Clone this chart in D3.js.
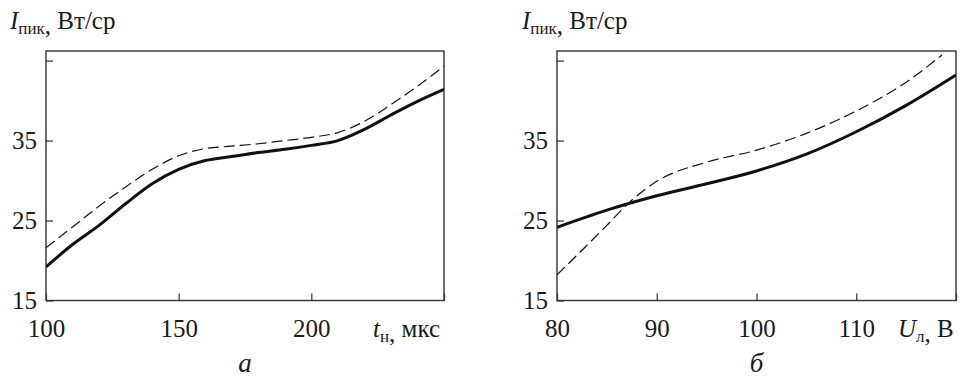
<!DOCTYPE html>
<html>
<head>
<meta charset="utf-8">
<script src="https://cdn.jsdelivr.net/npm/d3@7"></script>
<style>
  body { margin: 0; background: #fff; }
</style>
</head>
<body>
<div id="chartArea"></div>
<script>
// panel a: I_пик vs t_н
var tA = [100, 110, 120, 130, 140, 150, 160, 170, 180, 190, 200, 210, 220, 230, 240, 250];
var solidA = [19.2, 22.0, 24.4, 27.1, 29.6, 31.4, 32.5, 33.0, 33.5, 33.9, 34.4, 35.0, 36.4, 38.2, 39.9, 41.4];
var dashA = [21.6, 24.2, 26.8, 29.2, 31.4, 33.1, 34.0, 34.3, 34.6, 35.0, 35.4, 36.0, 37.4, 39.5, 41.8, 44.3];
var xTicksA = [100, 150, 200, 250];

// panel б: I_пик vs U_л
var uSolidB = [80, 85, 90, 95, 100, 105, 110, 115, 120];
var solidB = [24.15, 26.3, 28.1, 29.6, 31.2, 33.3, 36.1, 39.4, 43.2];
var uDashB = [80, 85, 87.2, 90, 95, 100, 105, 110, 115, 118.6];
var dashB = [18.2, 24.4, 27.2, 29.9, 32.3, 33.8, 35.9, 38.7, 42.3, 45.7];
var xTicksB = [80, 90, 100, 110, 120];

var yTicks = [15, 25, 35, 45];
var yLabeled = [15, 25, 35];

var width = 963, height = 378;
var plotTop = 51, plotBottom = 300.5;
var serif = '"Liberation Serif"';

var svg = d3.select('#chartArea').append('svg')
    .attr('width', width)
    .attr('height', height);

function panel(o) {
    var x = d3.scaleLinear().domain(o.xDomain).range([o.left, o.right]);
    var y = d3.scaleLinear().domain([15, 46.2]).range([plotBottom, plotTop]);
    var g = svg.append('g');

    g.append('clipPath').attr('id', o.id + 'clip')
        .append('rect')
        .attr('x', o.left).attr('y', plotTop)
        .attr('width', o.right - o.left).attr('height', plotBottom - plotTop);

    var yAxis = g.append('g')
        .attr('transform', 'translate(' + o.left + ',0)')
        .call(d3.axisLeft(y).tickValues(yTicks).tickSize(-7).tickPadding(9)
            .tickFormat(function(d) { return yLabeled.indexOf(d) >= 0 ? d : ''; }));
    var xAxis = g.append('g')
        .attr('transform', 'translate(0,' + plotBottom + ')')
        .call(d3.axisBottom(x).tickValues(o.xTicks).tickSize(-7).tickPadding(19)
            .tickFormat(function(d) { return d === o.xDomain[1] ? '' : d; }));
    [yAxis, xAxis].forEach(function(a) {
        a.attr('font-family', null).attr('font-size', null);
        a.select('.domain').remove();
        a.selectAll('line').attr('stroke', '#333').attr('stroke-width', 1.2);
        a.selectAll('text').style('font-family', serif)
            .attr('font-size', 25).attr('fill', '#1a1a1a');
    });

    g.append('rect')
        .attr('x', o.left).attr('y', plotTop)
        .attr('width', o.right - o.left).attr('height', plotBottom - plotTop)
        .attr('fill', 'none').attr('stroke', '#333').attr('stroke-width', 1.4);

    var line = d3.line()
        .x(function(d) { return x(d[0]); })
        .y(function(d) { return y(d[1]); })
        .curve(d3.curveMonotoneX);

    g.append('path')
        .datum(d3.zip(o.dashX, o.dash))
        .attr('clip-path', 'url(#' + o.id + 'clip)')
        .attr('d', line)
        .attr('fill', 'none').attr('stroke', '#111')
        .attr('stroke-width', 1.2).attr('stroke-dasharray', '11,5');
    g.append('path')
        .datum(d3.zip(o.solidX, o.solid))
        .attr('clip-path', 'url(#' + o.id + 'clip)')
        .attr('d', line)
        .attr('fill', 'none').attr('stroke', '#111')
        .attr('stroke-width', 3);

    // y title
    var yt = g.append('text').attr('x', o.yTitleX).attr('y', 29)
        .style('font-family', serif).attr('font-size', 25).attr('fill', '#1a1a1a');
    yt.append('tspan').attr('font-style', 'italic').text('I');
    yt.append('tspan').attr('font-size', 17).attr('dy', 5).text('пик');
    yt.append('tspan').text(',');
    yt.append('tspan').attr('dy', -5).text(' Вт/ср');

    // x title
    var xt = g.append('text').attr('x', o.xTitleX).attr('y', 337)
        .style('font-family', serif).attr('font-size', 25).attr('fill', '#1a1a1a');
    xt.append('tspan').attr('font-style', 'italic').text(o.xVar);
    xt.append('tspan').attr('font-size', 17).attr('dy', 5).text(o.xSub);
    xt.append('tspan').text(',');
    xt.append('tspan').attr('dy', -5).text(' ' + o.xUnit);

    g.append('text')
        .attr('x', (o.left + o.right) / 2).attr('y', 372)
        .style('font-family', serif).attr('fill', '#1a1a1a')
        .attr('text-anchor', 'middle').attr('font-size', 27).attr('font-style', 'italic')
        .text(o.name);
}

panel({id: 'a', left: 46, right: 444, xDomain: [100, 250], xTicks: xTicksA,
       solidX: tA, solid: solidA, dashX: tA, dash: dashA,
       yTitleX: 10, xTitleX: 373, xVar: 't', xSub: 'н', xUnit: 'мкс', name: 'а'});
panel({id: 'b', left: 557, right: 956, xDomain: [80, 120], xTicks: xTicksB,
       solidX: uSolidB, solid: solidB, dashX: uDashB, dash: dashB,
       yTitleX: 522, xTitleX: 898, xVar: 'U', xSub: 'л', xUnit: 'В', name: 'б'});
</script>
</body>
</html>
